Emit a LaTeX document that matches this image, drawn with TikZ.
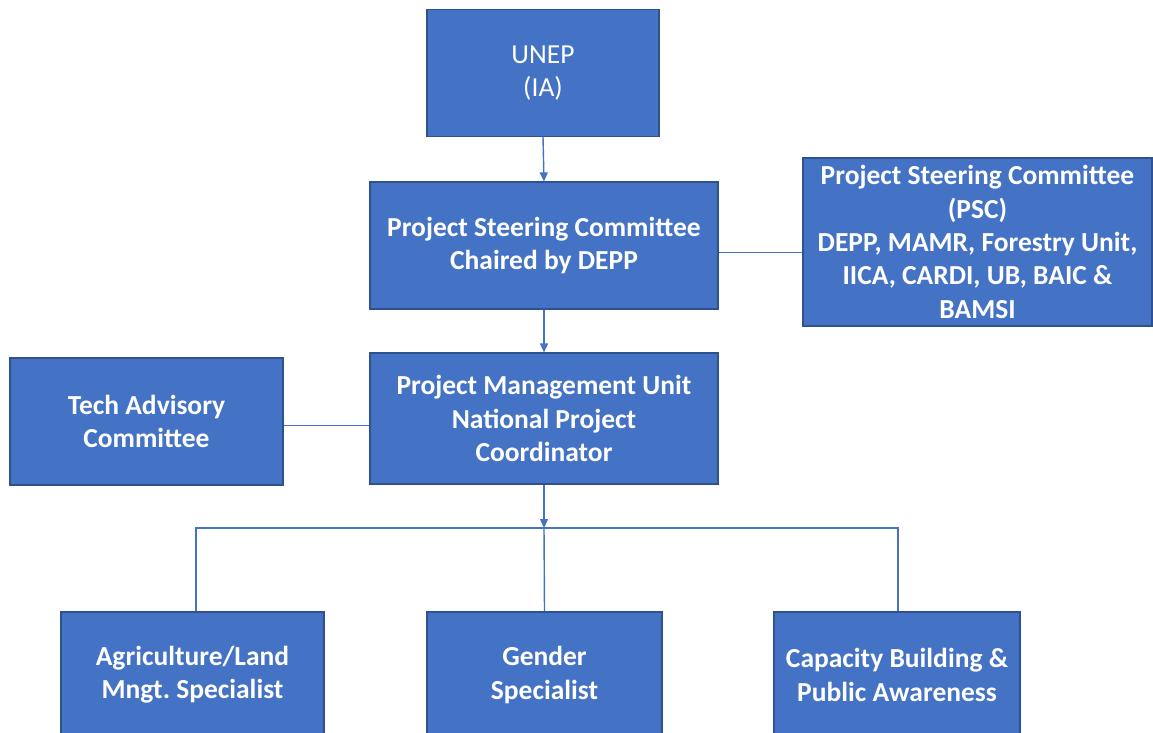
\documentclass[tikz,border=0pt]{standalone}
\usepackage{fontspec}
\setmainfont{Carlito}
\usetikzlibrary{arrows.meta}
\definecolor{boxfill}{HTML}{4472C4}
\definecolor{boxedge}{HTML}{2F528F}
\frenchspacing
\begin{document}
\begin{tikzpicture}[x=1pt,y=-1pt,
  orgbox/.style={draw=boxedge, line width=1.2pt, fill=boxfill, text=white,
    font=\fontsize{27.5}{33.3}\selectfont\bfseries, align=center,
    inner sep=0pt, rectangle},
  link/.style={draw=boxfill, line width=1.4pt},
  linkarrow/.style={link, -{Triangle[length=9pt,width=8pt]}}]
  \useasboundingbox (0,0) rectangle (1153,732);
  % top level
  \node[orgbox, minimum width=232pt, minimum height=127pt,
        font=\fontsize{27.5}{33.3}\selectfont] (unep) at (543,73) {UNEP\\(IA)};
  \node[orgbox, minimum width=348pt, minimum height=127pt] (psc) at (544,245.5)
    {Project Steering Committee\\Chaired by DEPP};
  \node[orgbox, minimum width=349pt, minimum height=168pt] (pscm) at (977.5,242)
    {Project Steering Committee\\(PSC)\\DEPP, MAMR, Forestry Unit,\\IICA, CARDI, UB, BAIC \&\\BAMSI};
  \node[orgbox, minimum width=348pt, minimum height=131pt] (pmu) at (544,418.5)
    {Project Management Unit\\National Project\\Coordinator};
  \node[orgbox, minimum width=273pt, minimum height=127pt] (tac) at (146.5,421.5)
    {Tech Advisory\\Committee};
  % specialists
  \node[orgbox, minimum width=263pt, minimum height=126pt] (agri) at (192.5,675)
    {Agriculture/Land\\Mngt. Specialist};
  \node[orgbox, minimum width=235pt, minimum height=126pt] (gender) at (544.5,675)
    {Gender\\Specialist};
  \node[orgbox, minimum width=246pt, minimum height=126pt] (cap) at (897,675)
    {Capacity Building \&\\Public Awareness};
  \coordinate (bus) at (544,528);
  % connectors
  \draw[linkarrow] (unep.south) -- (psc.north);
  \draw[linkarrow] (psc.south) -- (pmu.north);
  \draw[link] ([yshift=-7pt]psc.east) -- ([yshift=-7pt]psc.east -| pscm.west);
  \draw[link] ([yshift=-4pt]tac.east) -- ([yshift=-4pt]tac.east -| pmu.west);
  \draw[linkarrow] (pmu.south) -- (bus);
  \draw[link] ([xshift=3.5pt]agri.north) |- (bus) -| ([xshift=1pt]cap.north);
  \draw[link] (bus) -- (gender.north);
\end{tikzpicture}
\end{document}
